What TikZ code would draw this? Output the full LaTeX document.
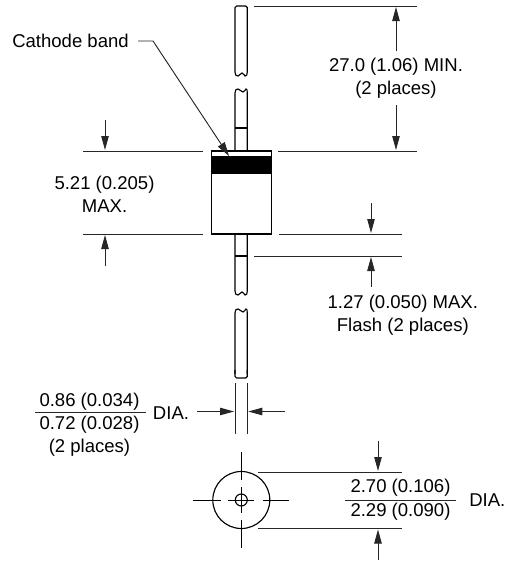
\documentclass[tikz,border=0pt]{standalone}
\usepackage{fontspec}
\setmainfont{Liberation Sans}
\usetikzlibrary{arrows.meta}
\tikzset{
  every node/.style={font=\fontsize{13.9pt}{17pt}\selectfont,inner sep=0pt,align=center},
  obj/.style={draw=black,line width=0.85pt},
  dim/.style={draw=black!85,line width=0.7pt},
  arr/.style={dim,-{Triangle[length=10.5pt,width=5.6pt]}},
  thin cross/.style={draw=black,line width=0.7pt}
}
\begin{document}
\begin{tikzpicture}[x=0.75pt,y=-0.75pt]
\useasboundingbox (0,0) rectangle (507,561);
% leads
\draw[obj,rounded corners=1.2pt] (235,72) -- (235,6) -- (247.3,6) -- (247.3,72);
\draw[obj] (235,72) .. controls (235,75) and (236,76) .. (238,76) .. controls (240,76) and (240,73) .. (242,73) .. controls (244,73) and (244,76) .. (245,76) .. controls (246.5,76) and (247.3,75) .. (247.3,72);
\draw[obj] (235,151) -- (235,93) .. controls (235,90) and (236,89) .. (238,89) .. controls (240,89) and (241,92) .. (243,92) .. controls (245,92) and (245,89) .. (246,89) .. controls (247,89) and (247.3,90) .. (247.3,93) -- (247.3,151);
\draw[obj] (235,128) -- (247.3,128);
\draw[obj] (235,234) -- (235,291) .. controls (235,294) and (236,295) .. (238,295) .. controls (240,295) and (240,292) .. (242,292) .. controls (244,292) and (244,295) .. (245,295) .. controls (246.5,295) and (247.3,294) .. (247.3,291) -- (247.3,234);
\draw[obj] (235,256) -- (247.3,256);
\draw[obj] (235,374) -- (235,313) .. controls (235,310) and (236,309) .. (238,309) .. controls (240,309) and (241,312) .. (243,312) .. controls (245,312) and (245,309) .. (246,309) .. controls (247,309) and (247.3,310) .. (247.3,313) -- (247.3,374);
\draw[obj,rounded corners=1.2pt] (235,370) -- (235,378) -- (247.3,378) -- (247.3,370);
% body
\fill[black] (211.5,156) rectangle (271.5,174);
\draw[obj] (211.5,151) rectangle (271.5,234);
% top dimension
\draw[dim] (254,6) -- (417,6);
\draw[dim] (278,151) -- (417,151);
\draw[arr] (396,51) -- (396,7);
\draw[arr] (396,105) -- (396,150);
\node (lead) at (396,78.5) {27.0 (1.06) MIN.\\(2 places)};
% body length
\draw[dim] (83,151) -- (203,151);
\draw[dim] (83,234) -- (203,234);
\draw[arr] (105,120) -- (105,150);
\draw[arr] (105,266) -- (105,235);
\node (len) at (104.5,194) {5.21 (0.205)\\MAX.};
% flash
\draw[dim] (279,234) -- (402,234);
\draw[dim] (254,256) -- (402,256);
\draw[arr] (371,203) -- (371,233);
\draw[arr] (371,287) -- (371,257);
\node (flash) at (402.8,315) {1.27 (0.050) MAX.\\Flash (2 places)};
% cathode
\node[anchor=west] (cath) at (12,41) {Cathode band};
\coordinate (tip) at (229,156);
\coordinate (lstart) at (138,41);
\coordinate (lbend) at (153,41);
\draw[dim,-{Triangle[length=10.5pt,width=6pt]}] (lstart) -- (lbend) -- (tip);
% lead diameter
\draw[dim] (235,383) -- (235,434);
\draw[dim] (247.3,383) -- (247.3,434);
\draw[arr] (197,411.5) -- (234,411.5);
\draw[arr] (285,411.5) -- (248.3,411.5);
\node (d1) at (89.5,401.5) {0.86 (0.034)};
\node (d2) at (89.5,425) {0.72 (0.028)};
\node (d3) at (89.5,448) {(2 places)};
\draw[dim] (35,412.7) -- (146,412.7);
\node[anchor=west] (dia1) at (152.7,413) {DIA.};
% end view
\draw[obj] (241.3,500) circle (28.5);
\draw[obj] (241.3,500) circle (6);
\draw[thin cross] (193.3,500) -- (220.7,500) (228,500) -- (254,500) (263,500) -- (289.3,500);
\draw[thin cross] (241.3,452) -- (241.3,480) (241.3,487) -- (241.3,513) (241.3,520) -- (241.3,548);
\draw[dim] (258,472) -- (402,472);
\draw[dim] (258,528.5) -- (402,528.5);
\draw[arr] (378,441) -- (378,471);
\draw[arr] (378,560) -- (378,529.5);
\node (e1) at (400.5,488) {2.70 (0.106)};
\node (e2) at (400.5,511.7) {2.29 (0.090)};
\draw[dim] (345,500) -- (456,500);
\node[anchor=west] (dia2) at (469,500) {DIA.};
\end{tikzpicture}
\end{document}
